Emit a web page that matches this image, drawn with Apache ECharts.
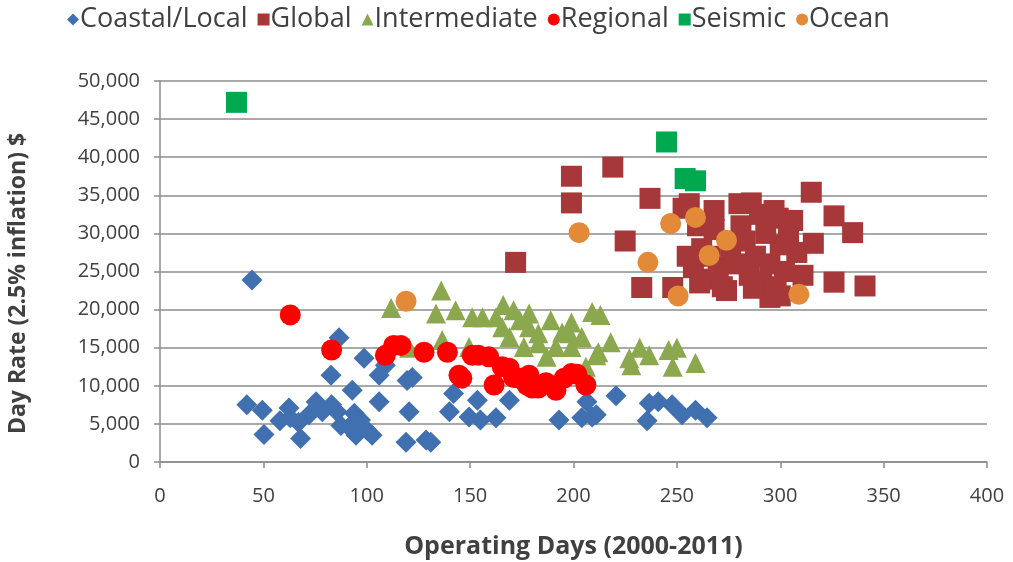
<!DOCTYPE html>
<html>
<head>
<meta charset="utf-8">
<script src="https://cdn.jsdelivr.net/npm/echarts@6/dist/echarts.min.js"></script>
<style>
  html, body { margin: 0; padding: 0; background: #fff; }
  #chart { width: 1013px; height: 562px; }
</style>
</head>
<body>
<div id="chart"></div>
<script>
// Vessel day rates versus operating days, by vessel class
const seriesNames = ['Coastal/Local', 'Global', 'Intermediate', 'Regional', 'Seismic', 'Ocean'];

const coastalLocal = [
  [44.5, 23900], [42, 7500], [49.5, 6800], [50.3, 3600], [62.4, 7100], [63, 5800],
  [67, 5200], [68, 3100], [75.5, 7900], [78.5, 6600], [83, 7500], [85.6, 6600],
  [87.5, 4800], [91.4, 4600], [94, 6400], [94.8, 3500], [97, 5500], [82.7, 11400],
  [86.6, 16300], [93, 9400], [98.7, 13600], [102.6, 3500], [106, 7900], [106, 11400],
  [109, 12700], [119.5, 10700], [120.5, 6600], [119, 2600], [122, 11100], [128.7, 2900],
  [131, 2600], [142, 9000], [140, 6600], [153.5, 8100], [149.5, 5900], [155, 5500],
  [162.5, 5800], [169, 8100], [193, 5500], [206.5, 7900], [204, 5800], [209, 5900],
  [211, 6200], [220.6, 8700], [236.6, 7700], [241, 7900], [235.6, 5400], [247.7, 7500],
  [252.5, 6200], [259, 6800], [264.6, 5800], [72, 6200], [58, 5400], [100, 4200]
];

const global = [
  [172, 26200], [199, 37500], [199, 34000], [219, 38700], [225, 29000], [237, 34600],
  [233, 22900], [248, 22900], [253, 33300], [315, 35400], [326, 32300], [335, 30100],
  [326, 23600], [341, 23100], [311, 24500], [316, 28700],
  [256, 33900], [260, 31000], [262, 28000], [258, 25500], [264, 24000], [266, 27000],
  [268, 30500], [270, 25500], [272, 23000], [274, 22500], [276, 28000], [278, 26000],
  [280, 33900], [281, 31000], [283, 29000], [285, 24500], [286, 34000], [288, 27000],
  [290, 32500], [291, 23500], [293, 30000], [295, 26000], [295, 21600], [297, 33000],
  [298, 23000], [299, 32000], [300, 28500], [302, 25000], [304, 30000], [306, 31700],
  [308, 27500], [261, 23500], [255, 27000], [268, 33000], [287, 22800], [300, 21800]
];

const intermediate = [
  [111.8, 20200], [120.5, 15000], [136, 22500], [133.5, 19500], [143, 19900], [151, 19000],
  [156, 19000], [166, 20600], [171, 19900], [178.5, 19500], [165.5, 17700], [169, 16400],
  [178.5, 17700], [189, 18600], [194.5, 17000], [199, 18300], [191.5, 15100], [199, 15100],
  [209, 19700], [213, 19300], [218, 15700], [211, 14000], [206, 12500], [227, 13600],
  [232, 15000], [236.6, 14000], [246, 14700], [250, 15000], [248, 12500], [259, 13000],
  [228, 12700], [183, 15600], [176, 15100], [162.5, 19000], [174, 18600], [183, 16900],
  [198, 16900], [204, 16400], [212, 14400], [187, 13800], [149.5, 15100], [136.5, 16000]
];

const regional = [
  [63, 19300], [83, 14700], [109, 14000], [113, 15300], [116.5, 15300], [127.7, 14400],
  [139, 14400], [144.6, 11400], [146, 11000], [151, 14000], [154, 14000], [159, 13800],
  [161.6, 10100], [165.5, 12500], [168.9, 12300], [171, 11100], [173.7, 11000], [177.5, 10100],
  [178.5, 11400], [180, 9700], [183, 9700], [186.7, 10400], [191.5, 9400], [195.5, 11000],
  [199, 11600], [201.7, 11500], [206, 10100]
];

const seismic = [
  [37, 47200], [245, 42000], [254, 37200], [259, 36900]
];

const ocean = [
  [119, 21100], [202.7, 30100], [236, 26200], [247, 31300], [259, 32100], [274, 29100],
  [265.6, 27100], [250.6, 21800], [309, 22000]
];

const xTicks = [0, 50, 100, 150, 200, 250, 300, 350, 400];
const yTicks = [0, 5000, 10000, 15000, 20000, 25000, 30000, 35000, 40000, 45000, 50000];

const colors = ['#4170B0', '#A63839', '#8BA84E', '#FF0000', '#00A84F', '#E38A38'];
const symbols = ['diamond', 'rect', 'triangle', 'circle', 'rect', 'circle'];
const sizes = [21, 21, 20, 21, 21, 21];
const dataSets = [coastalLocal, global, intermediate, regional, seismic, ocean];

const textColor = '#404040';
const fontFamily = "'Open Sans', sans-serif";

const chart = echarts.init(document.getElementById('chart'), null, { renderer: 'canvas' });

chart.setOption({
  animation: false,
  color: colors,
  legend: {
    top: 1,
    left: 62,
    itemGap: 10,
    itemWidth: 12,
    itemHeight: 12,
    textStyle: { fontFamily, fontSize: 27, color: textColor, padding: [0, 0, 0, -4] },
    data: seriesNames.map((name, i) => ({ name, icon: symbols[i] }))
  },
  grid: { left: 160, right: 26, top: 81, bottom: 100, containLabel: false, outerBoundsMode: 'none' },
  xAxis: {
    type: 'value',
    min: xTicks[0],
    max: xTicks[xTicks.length - 1],
    interval: 50,
    name: 'Operating Days (2000-2011)',
    nameLocation: 'middle',
    nameGap: 72,
    nameTextStyle: { fontFamily, fontSize: 25, fontWeight: 'bold', color: textColor },
    axisLine: { show: true, lineStyle: { color: '#8c8c8c', width: 1.5 } },
    axisTick: { show: true, length: 6, lineStyle: { color: '#8c8c8c', width: 1.5 } },
    axisLabel: { fontFamily, fontSize: 20, color: textColor, margin: 24 },
    splitLine: { show: false }
  },
  yAxis: {
    type: 'value',
    min: yTicks[0],
    max: yTicks[yTicks.length - 1],
    interval: 5000,
    name: 'Day Rate (2.5% inflation) $',
    nameLocation: 'middle',
    nameGap: 130,
    nameRotate: 90,
    nameTextStyle: { fontFamily, fontSize: 23, fontWeight: 'bold', color: textColor, padding: [0, 24, 0, 0] },
    axisLine: { show: true, lineStyle: { color: '#8c8c8c', width: 1.5 } },
    axisTick: { show: true, length: 6, lineStyle: { color: '#8c8c8c', width: 1.5 } },
    axisLabel: {
      fontFamily, fontSize: 20, color: textColor, margin: 20,
      formatter: v => v.toLocaleString('en-US')
    },
    splitLine: { show: true, lineStyle: { color: '#8c8c8c', width: 1.5 } }
  },
  series: seriesNames.map((name, i) => ({
    name,
    type: 'scatter',
    symbol: symbols[i],
    symbolSize: sizes[i],
    itemStyle: { color: colors[i], opacity: 1 },
    data: dataSets[i],
    z: 2 + i
  }))
});
</script>
</body>
</html>
